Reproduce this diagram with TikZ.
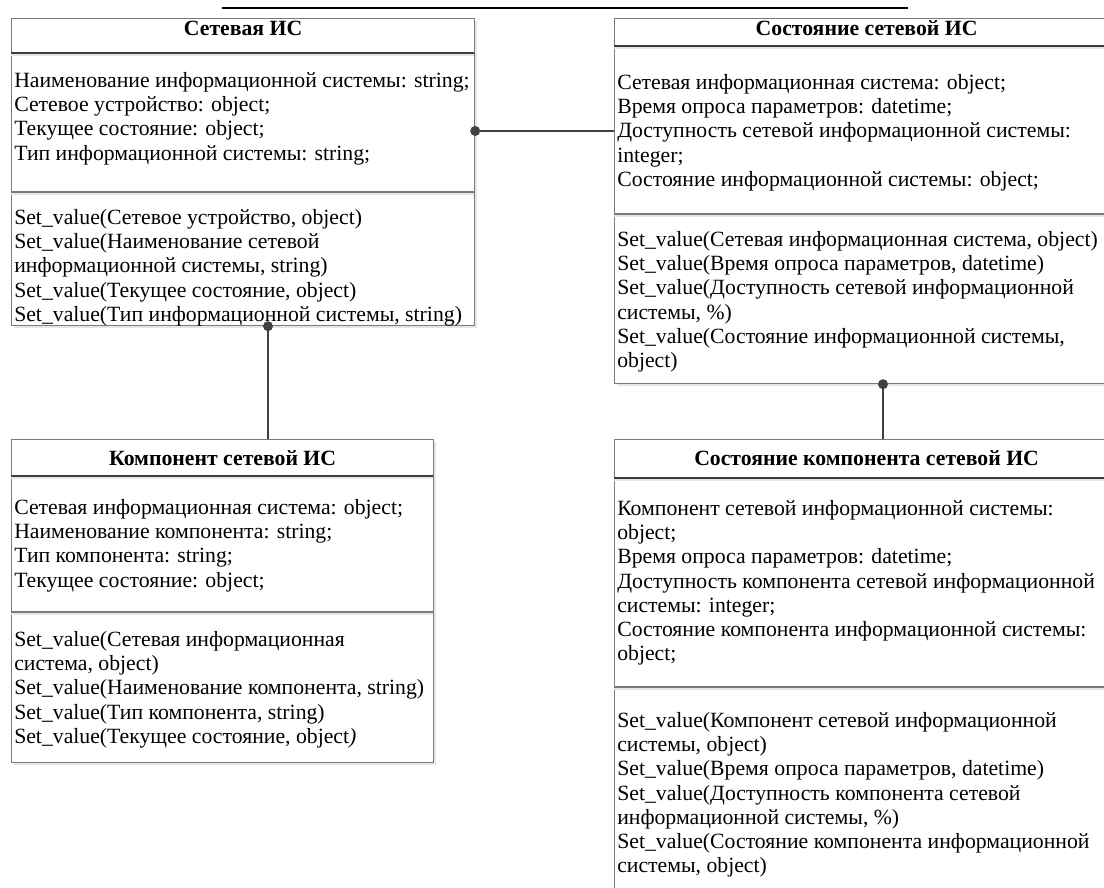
\documentclass[tikz,border=0pt]{standalone}
\usepackage{fontspec}
\setmainfont{Liberation Serif}
\usetikzlibrary{calc}
\usetikzlibrary{shadows}
\definecolor{boxgray}{HTML}{7A7A7A}
\definecolor{titlegray}{HTML}{3C3C3C}
\definecolor{linkgray}{HTML}{404040}
\definecolor{shadegray}{HTML}{E6E6E6}
\newcommand{\pxl}{0.75pt}
\newcommand{\sepline}[4][boxgray]{\draw[shadegray, line width=1.5pt] ( #2 , #4+2 ) -- ( #3 , #4+2 ); \draw[#1, line width=0.9pt] ( #2 , #4 ) -- ( #3 , #4 );}

\tikzset{
  classbox/.style={draw=boxgray, line width=0.9pt, fill=white, anchor=north west, inner sep=0pt,
    drop shadow={shadow xshift=1.5pt, shadow yshift=-1.5pt, fill=shadegray, opacity=1}},
  classtitle/.style={font=\bfseries\fontsize{16.3}{18.2}\selectfont, inner sep=0pt, anchor=base},
  members/.style={font=\fontsize{16.3}{18.2}\selectfont, align=left, inner sep=0pt, anchor=north west,
    execute at begin node=\strut},
  link/.style={draw=linkgray, line width=1.3pt},
  linkdot/.style={circle, fill=linkgray, inner sep=0pt, minimum size=7.5pt},
}

\begin{document}
\begin{tikzpicture}[x=0.75pt, y=-0.75pt]
    \useasboundingbox (0,0) rectangle (1104,888);
    \clip (0,0) rectangle (1104,888);
    \draw[line width=1.5pt] (222,8) -- (908,8);

    % box 1
    \node[classbox, minimum width=463*\pxl, minimum height=307*\pxl] (net) at (11,18) {};
    \sepline[titlegray]{11}{474}{53}
    \sepline{11}{474}{192}
    \node[classtitle] (netT) at ($(net.north)+(0,18)$) {Сетевая ИС};
    \node[members] (netA) at (14,72) {Наименование информационной системы: string;\\
        Сетевое устройство: object;\\
        Текущее состояние: object;\\
        Тип информационной системы: string;};
    \node[members] (netM) at (14,209) {Set\_value(Сетевое устройство, object)\\
        Set\_value(Наименование сетевой\\
        информационной системы, string)\\
        Set\_value(Текущее состояние, object)\\
        Set\_value(Тип информационной системы, string)};

    % box 2
    \node[classbox, minimum width=504*\pxl, minimum height=365*\pxl] (state) at (614,18) {};
    \sepline[titlegray]{614}{1118}{46}
    \sepline{614}{1118}{214}
    \node[classtitle] (stateT) at ($(state.north)+(0,18)$) {Состояние сетевой ИС};
    \node[members] (stateA) at (617,74) {Сетевая информационная система: object;\\
        Время опроса параметров: datetime;\\
        Доступность сетевой информационной системы:\\
        integer;\\
        Состояние информационной системы: object;};
    \node[members] (stateM) at (617,231) {Set\_value(Сетевая информационная система, object)\\
        Set\_value(Время опроса параметров, datetime)\\
        Set\_value(Доступность сетевой информационной\\
        системы, \%)\\
        Set\_value(Состояние информационной системы,\\
        object)};

    % box 3
    \node[classbox, minimum width=422*\pxl, minimum height=323*\pxl] (comp) at (11,439) {};
    \sepline[titlegray]{11}{433}{476}
    \sepline{11}{433}{612}
    \node[classtitle] (compT) at ($(comp.north)+(0,26)$) {Компонент сетевой ИС};
    \node[members] (compA) at (14,499) {Сетевая информационная система: object;\\
        Наименование компонента: string;\\
        Тип компонента: string;\\
        Текущее состояние: object;};
    \node[members] (compM) at (14,631) {Set\_value(Сетевая информационная\\
        система, object)\\
        Set\_value(Наименование компонента, string)\\
        Set\_value(Тип компонента, string)\\
        Set\_value(Текущее состояние, object\textit{)}};

    % box 4
    \node[classbox, minimum width=504*\pxl, minimum height=470*\pxl] (compstate) at (614,439) {};
    \sepline[titlegray]{614}{1118}{478}
    \sepline{614}{1118}{687}
    \node[classtitle] (compstateT) at ($(compstate.north)+(0,26)$) {Состояние компонента сетевой ИС};
    \node[members] (compstateA) at (617,500) {Компонент сетевой информационной системы:\\
        object;\\
        Время опроса параметров: datetime;\\
        Доступность компонента сетевой информационной\\
        системы: integer;\\
        Состояние компонента информационной системы:\\
        object;};
    \node[members] (compstateM) at (617,712) {Set\_value(Компонент сетевой информационной\\
        системы, object)\\
        Set\_value(Время опроса параметров, datetime)\\
        Set\_value(Доступность компонента сетевой\\
        информационной системы, \%)\\
        Set\_value(Состояние компонента информационной\\
        системы, object)};

    % links
    \coordinate (linkAB) at (544,131);
    \coordinate (linkAC) at (268,380);
    \coordinate (linkBD) at (883,410);
    \draw[link] (net.east |- linkAB) -- (state.west |- linkAB);
    \draw[link] (net.south -| linkAC) -- (comp.north -| linkAC);
    \draw[link] (state.south -| linkBD) -- (compstate.north -| linkBD);
    \node[linkdot] (dotAB) at (net.east |- linkAB) {};
    \node[linkdot] (dotAC) at (net.south -| linkAC) {};
    \node[linkdot] (dotBD) at (state.south -| linkBD) {};
\end{tikzpicture}
\end{document}
